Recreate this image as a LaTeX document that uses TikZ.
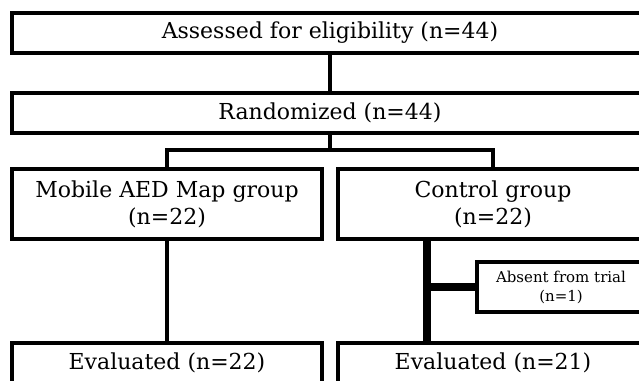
\documentclass[tikz,border=0pt]{standalone}
\usepackage{fontspec}
\setmainfont{DejaVu Serif}
\usepackage{tikz}
\tikzset{box/.style={draw, line width=4pt, inner sep=0pt, align=center, minimum height=40pt, font=\fontsize{22}{27}\selectfont}}
\tikzset{link/.style={line width=3.5pt}, heavylink/.style={line width=7.5pt}}
\begin{document}
\begin{tikzpicture}[x=1pt, y=-1pt]
    \path[use as bounding box, clip](0, 0) rectangle (639, 380);
    \node[box, minimum width=636pt](elig) at (330, 33) {Assessed for eligibility (n=44)};
    \node[box, minimum width=636pt](rand) at (330, 113) {Randomized (n=44)};
    \node[box, minimum width=310pt, minimum height=70pt](map) at (167, 204) {Mobile AED Map group\\(n=22)};
    \node[box, minimum width=310pt, minimum height=70pt](ctrl) at (493, 204) {Control group\\(n=22)};
    \node[box, minimum width=168pt, minimum height=50pt, font=\fontsize{15}{19}\selectfont](absent) at (561, 287) {Absent from trial\\(n=1)};
    \node[box, minimum width=310pt](evalmap) at (167, 363) {Evaluated (n=22)};
    \node[box, minimum width=310pt](evalctrl) at (493, 363) {Evaluated (n=21)};
    \coordinate(split) at (330, 150);
    \coordinate(drop) at (427, 287);
    \draw[link](elig)--(rand);
    \draw[link](rand)--(split);
    \draw[link](map.north)|-(split)-|(ctrl.north);
    \draw[link](map)--(evalmap);
    \draw[heavylink](ctrl.south -| drop)--(evalctrl.north -| drop);
    \draw[heavylink](drop)--(absent);
\end{tikzpicture}
\end{document}
